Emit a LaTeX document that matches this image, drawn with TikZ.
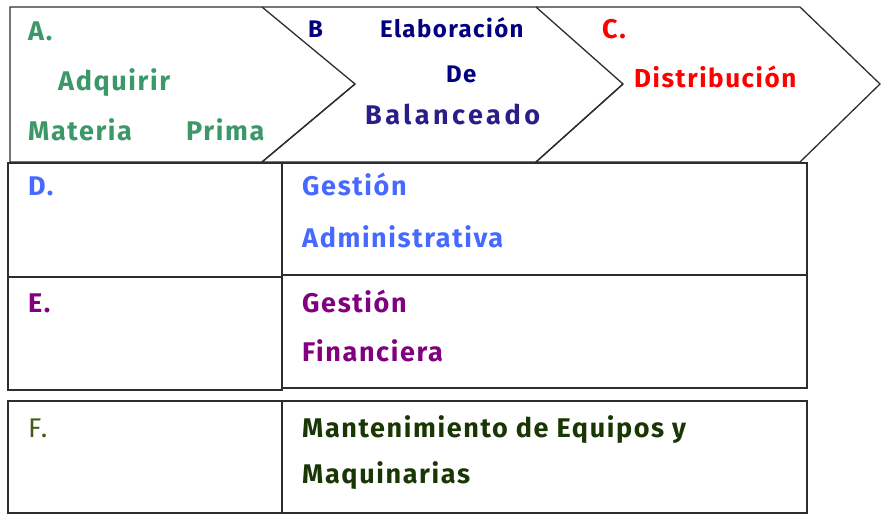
\documentclass[tikz,border=0pt]{standalone}
\usepackage{fontspec}
\setmainfont{Fira Sans}
\newfontfamily\lblfont[LetterSpace=6]{Fira Sans}
\newfontfamily\widefont[LetterSpace=13]{Fira Sans}
\usepackage{xcolor}
\definecolor{greenA}{RGB}{60,152,104}
\definecolor{navyB}{RGB}{0,0,128}
\definecolor{navyBal}{RGB}{40,30,135}
\definecolor{redC}{RGB}{255,0,0}
\definecolor{blueD}{RGB}{70,105,255}
\definecolor{purpleE}{RGB}{128,0,128}
\definecolor{oliveF}{RGB}{70,90,20}
\definecolor{greenF}{RGB}{25,55,5}
\definecolor{edge}{RGB}{45,45,45}

\begin{document}
\begin{tikzpicture}[x=1pt,y=-1pt,
    frame/.style={draw=edge,line width=1.3pt},
    label/.style={anchor=base west,inner sep=0pt,font=\lblfont\fontsize{27}{30}\selectfont\bfseries},
    small/.style={font=\lblfont\fontsize{24}{27}\selectfont\bfseries}]
    \useasboundingbox (0,0) rectangle (881,514);

    % Chevrons
    \draw[frame] (10,7) -- (262,7) -- (355,84) -- (262,162) -- (10,162) -- cycle;
    \draw[frame] (262,7) -- (536,7) -- (623,84) -- (536,162) -- (262,162) -- (355,84);
    \draw[frame] (536,7) -- (800,7) -- (880,84) -- (800,162) -- (536,162) -- (623,84);

    % Chevron texts
    \node[label,text=greenA] (a) at (28,40) {A.};
    \node[label,text=greenA] (adq) at (58,90) {Adquirir};
    \node[label,text=greenA] (mat) at (28,140) {Materia};
    \node[label,text=greenA] (pri) at (186,140) {Prima};
    \node[label,small,text=navyB] (b) at (308,37) {B};
    \node[label,small,text=navyB] (ela) at (380,37) {Elaboración};
    \node[label,small,text=navyB] (de) at (446,82) {De};
    \node[label,text=navyBal,font=\widefont\fontsize{27}{30}\selectfont\bfseries] (bal) at (365,124) {Balanceado};
    \node[label,text=redC] (c) at (602,38) {C.};
    \node[label,text=redC,font=\lblfont\fontsize{26}{29}\selectfont\bfseries] (dis) at (634,87) {Distribución};

    % Table D and E
    \draw[frame] (8,163) rectangle (282,277);
    \draw[frame] (282,163) rectangle (807,275);
    \draw[frame] (8,277) rectangle (282,390);
    \draw[frame] (282,275) rectangle (807,388);
    \node[label,text=blueD] (d) at (28,195) {D.};
    \node[label,text=blueD] (gad) at (302,195) {Gestión};
    \node[label,text=blueD] (adm) at (302,247) {Administrativa};
    \node[label,text=purpleE] (e) at (28,312) {E.};
    \node[label,text=purpleE] (gfi) at (302,312) {Gestión};
    \node[label,text=purpleE] (fin) at (302,361) {Financiera};

    % Table F
    \draw[frame] (8,401) rectangle (282,513);
    \draw[frame] (282,401) rectangle (807,513);
    \node[label,text=oliveF,font=\lblfont\fontsize{27}{30}\selectfont] (f) at (28,437) {F.};
    \node[label,text=greenF] (man) at (302,437) {Mantenimiento de Equipos y};
    \node[label,text=greenF] (maq) at (302,483) {Maquinarias};
\end{tikzpicture}
\end{document}
